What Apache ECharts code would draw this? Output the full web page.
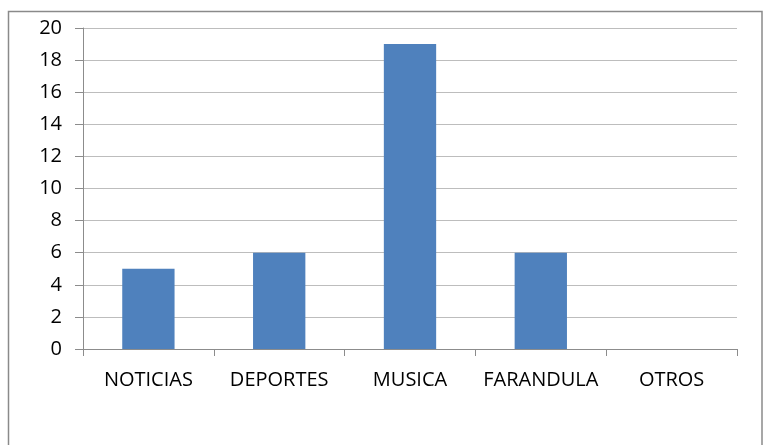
<!DOCTYPE html>
<html>
<head>
<meta charset="utf-8">
<script src="https://cdn.jsdelivr.net/npm/echarts@6/dist/echarts.min.js"></script>
<style>
html,body{margin:0;padding:0;background:#fff;}
#c{width:763px;height:445px;}
</style>
</head>
<body>
<div id="c"></div>
<script>
var categories = ['NOTICIAS', 'DEPORTES', 'MUSICA', 'FARANDULA', 'OTROS'];
var values = [5, 6, 19, 6, 0];
var yMin = 0, yMax = 20, yStep = 2;

var chart = echarts.init(document.getElementById('c'), null, {renderer: 'canvas'});
chart.setOption({
  animation: false,
  backgroundColor: '#ffffff',
  textStyle: {fontFamily: 'Open Sans'},
  graphic: [{
    type: 'rect',
    shape: {x: 8.5, y: 11.5, width: 753.5, height: 460},
    style: {fill: 'none', stroke: '#8a8a8a', lineWidth: 1.5},
    silent: true
  }],
  grid: {left: 83, right: 26, top: 28, bottom: 96, containLabel: false},
  xAxis: {
    type: 'category',
    data: categories,
    boundaryGap: true,
    axisLine: {show: true, lineStyle: {color: '#8c8c8c', width: 1}},
    axisTick: {show: true, length: 7, interval: 0, lineStyle: {color: '#8c8c8c'}},
    axisLabel: {color: '#000', fontSize: 20, fontFamily: 'Open Sans', margin: 21, interval: 0, hideOverlap: false}
  },
  yAxis: {
    type: 'value',
    min: yMin, max: yMax, interval: yStep,
    axisLine: {show: true, lineStyle: {color: '#8c8c8c', width: 1}},
    axisTick: {show: true, length: 8, lineStyle: {color: '#8c8c8c'}},
    splitLine: {show: true, lineStyle: {color: '#bdbdbd', width: 1}},
    axisLabel: {color: '#000', fontSize: 20, fontFamily: 'Open Sans', margin: 21}
  },
  series: [{
    type: 'bar',
    data: values,
    barWidth: '40%',
    itemStyle: {color: '#4f81bd'}
  }]
});
</script>
</body>
</html>
